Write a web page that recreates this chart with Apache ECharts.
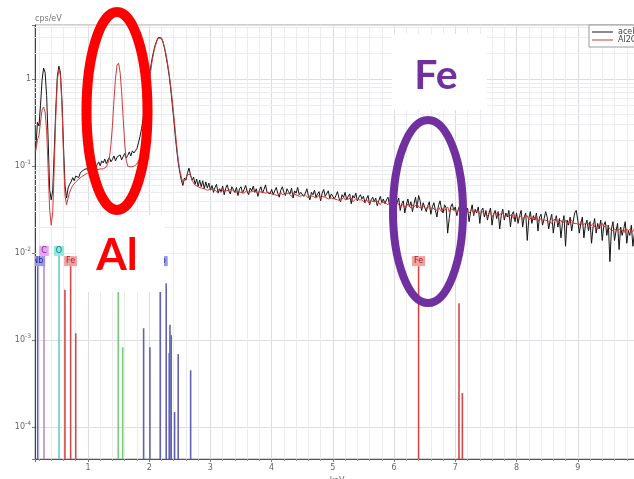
<!DOCTYPE html>
<html>
<head>
<meta charset="utf-8">
<script src="https://cdn.jsdelivr.net/npm/echarts@6/dist/echarts.min.js"></script>
<style>
  html, body { margin: 0; padding: 0; background: #fff; }
  #chart { width: 634px; height: 479px; }
</style>
</head>
<body>
<div id="chart"></div>
<script>
// Spectrum channels: 0.025 keV wide; two blocks starting at 0.15 keV and 3.0 keV
const channelWidth = 0.025;
const lowStart = 0.15;
const highStart = 3.0;

// "acel" spectrum, cps/eV, 0.150 - 2.975 keV (10 channels per row)
const acelLow = [
  0.17, 0.32, 0.29, 0.50, 0.97, 1.34, 1.20, 0.65, 0.20, 0.053,
  0.041, 0.053, 0.153, 0.465, 1.08, 1.41, 1.20, 0.574, 0.174, 0.060,
  0.043, 0.056, 0.062, 0.066, 0.074, 0.068, 0.077, 0.080, 0.074, 0.084,
  0.081, 0.090, 0.086, 0.094, 0.089, 0.099, 0.092, 0.097, 0.106, 0.096,
  0.104, 0.112, 0.101, 0.115, 0.109, 0.121, 0.107, 0.118, 0.126, 0.112,
  0.120, 0.131, 0.115, 0.127, 0.122, 0.135, 0.118, 0.129, 0.140, 0.124,
  0.133, 0.146, 0.131, 0.150, 0.142, 0.150, 0.160, 0.185, 0.22, 0.27,
  0.35, 0.46, 0.60, 0.80, 1.05, 1.38, 1.76, 2.13, 2.50, 2.80,
  3.02, 3.12, 2.98, 2.68, 2.28, 1.84, 1.45, 1.11, 0.79, 0.53,
  0.356, 0.227, 0.153, 0.108, 0.085, 0.069, 0.060, 0.073, 0.069, 0.083,
  0.095, 0.079, 0.069, 0.075, 0.062, 0.071, 0.059, 0.069, 0.058, 0.068,
  0.055, 0.066, 0.056, 0.064
];

// "acel" spectrum, cps/eV, 3.000 - 10.000 keV (20 channels per row)
const acelHigh = [
  0.053, 0.060, 0.050, 0.057, 0.062, 0.049, 0.055, 0.051, 0.059, 0.047, 0.056, 0.061, 0.052, 0.048, 0.058, 0.054, 0.050, 0.057, 0.046, 0.055,
  0.058, 0.049, 0.054, 0.060, 0.051, 0.047, 0.056, 0.052, 0.059, 0.050, 0.055, 0.045, 0.053, 0.058, 0.049, 0.054, 0.061, 0.050, 0.052, 0.048,
  0.054, 0.047, 0.052, 0.057, 0.049, 0.044, 0.053, 0.058, 0.050, 0.046, 0.055, 0.051, 0.048, 0.056, 0.043, 0.052, 0.049, 0.057, 0.047, 0.050,
  0.052, 0.045, 0.049, 0.055, 0.046, 0.041, 0.050, 0.047, 0.053, 0.044, 0.048, 0.051, 0.040, 0.049, 0.054, 0.045, 0.047, 0.052, 0.043, 0.048,
  0.049, 0.042, 0.046, 0.051, 0.043, 0.039, 0.047, 0.044, 0.050, 0.041, 0.045, 0.048, 0.037, 0.046, 0.043, 0.049, 0.040, 0.044, 0.047, 0.042,
  0.045, 0.038, 0.042, 0.046, 0.036, 0.041, 0.044, 0.039, 0.043, 0.035, 0.040, 0.045, 0.038, 0.042, 0.037, 0.041, 0.044, 0.036, 0.040, 0.038,
  0.041, 0.033, 0.038, 0.043, 0.031, 0.037, 0.040, 0.029, 0.036, 0.042, 0.034, 0.039, 0.030, 0.037, 0.044, 0.033, 0.046, 0.040, 0.031, 0.038,
  0.037, 0.030, 0.035, 0.039, 0.028, 0.034, 0.038, 0.031, 0.026, 0.035, 0.040, 0.032, 0.029, 0.036, 0.033, 0.017, 0.025, 0.034, 0.037, 0.031,
  0.034, 0.027, 0.032, 0.036, 0.025, 0.031, 0.035, 0.028, 0.033, 0.023, 0.030, 0.036, 0.027, 0.032, 0.029, 0.034, 0.022, 0.031, 0.033, 0.026,
  0.031, 0.024, 0.029, 0.033, 0.021, 0.028, 0.031, 0.025, 0.030, 0.019, 0.027, 0.032, 0.024, 0.029, 0.026, 0.031, 0.020, 0.028, 0.030, 0.023,
  0.029, 0.022, 0.027, 0.031, 0.020, 0.026, 0.029, 0.014, 0.025, 0.030, 0.022, 0.027, 0.024, 0.029, 0.018, 0.026, 0.028, 0.021, 0.025, 0.030,
  0.026, 0.019, 0.024, 0.028, 0.017, 0.023, 0.027, 0.020, 0.025, 0.015, 0.022, 0.027, 0.012, 0.024, 0.021, 0.026, 0.018, 0.023, 0.029, 0.031,
  0.024, 0.017, 0.022, 0.026, 0.015, 0.021, 0.024, 0.018, 0.023, 0.013, 0.020, 0.025, 0.017, 0.022, 0.019, 0.024, 0.014, 0.021, 0.023, 0.016,
  0.021, 0.008, 0.019, 0.023, 0.014, 0.018, 0.022, 0.011, 0.020, 0.016, 0.019, 0.023, 0.013, 0.018, 0.016, 0.021, 0.012, 0.017, 0.020, 0.015,
  0.017
];

// "Al2O3" spectrum, cps/eV, 0.150 - 2.975 keV
const al2o3Low = [
  0.153, 0.199, 0.227, 0.32, 0.441, 0.48, 0.42, 0.259, 0.090, 0.031,
  0.021, 0.030, 0.103, 0.386, 0.97, 1.30, 1.11, 0.50, 0.134, 0.046,
  0.036, 0.043, 0.050, 0.055, 0.060, 0.063, 0.066, 0.069, 0.071, 0.074,
  0.076, 0.078, 0.080, 0.082, 0.084, 0.083, 0.086, 0.088, 0.087, 0.090,
  0.091, 0.090, 0.093, 0.094, 0.093, 0.096, 0.098, 0.108, 0.123, 0.174,
  0.296, 0.574, 1.03, 1.45, 1.53, 1.20, 0.71, 0.356, 0.184, 0.117,
  0.100, 0.098, 0.098, 0.100, 0.100, 0.103, 0.106, 0.111, 0.123, 0.153,
  0.199, 0.296, 0.441, 0.64, 0.90, 1.24, 1.65, 2.04, 2.39, 2.73,
  2.96, 3.04, 2.96, 2.73, 2.33, 1.94, 1.53, 1.17, 0.853, 0.59,
  0.396, 0.259, 0.170, 0.117, 0.090, 0.075, 0.065, 0.067, 0.073, 0.081,
  0.085, 0.079, 0.069, 0.064, 0.0605, 0.059, 0.058, 0.059, 0.056, 0.058,
  0.055, 0.056, 0.053, 0.055
];

// "Al2O3" spectrum, cps/eV, 3.000 - 10.000 keV
const al2o3High = [
  0.054, 0.052, 0.055, 0.053, 0.051, 0.054, 0.052, 0.050, 0.053, 0.055, 0.052, 0.050, 0.053, 0.051, 0.054, 0.052, 0.050, 0.052, 0.051, 0.053,
  0.050, 0.052, 0.049, 0.051, 0.053, 0.050, 0.048, 0.051, 0.049, 0.052, 0.050, 0.048, 0.051, 0.049, 0.050, 0.052, 0.049, 0.047, 0.050, 0.049,
  0.048, 0.050, 0.047, 0.049, 0.046, 0.048, 0.050, 0.047, 0.045, 0.048, 0.046, 0.049, 0.047, 0.045, 0.048, 0.046, 0.047, 0.049, 0.045, 0.047,
  0.046, 0.044, 0.047, 0.045, 0.043, 0.046, 0.044, 0.045, 0.047, 0.043, 0.044, 0.046, 0.042, 0.045, 0.043, 0.044, 0.046, 0.042, 0.044, 0.043,
  0.044, 0.042, 0.043, 0.041, 0.043, 0.040, 0.042, 0.044, 0.041, 0.040, 0.042, 0.041, 0.043, 0.039, 0.041, 0.042, 0.040, 0.041, 0.039, 0.041,
  0.040, 0.038, 0.041, 0.039, 0.037, 0.040, 0.038, 0.039, 0.037, 0.040, 0.038, 0.036, 0.039, 0.037, 0.038, 0.040, 0.036, 0.038, 0.037, 0.036,
  0.037, 0.035, 0.038, 0.036, 0.034, 0.037, 0.035, 0.036, 0.034, 0.037, 0.035, 0.033, 0.036, 0.034, 0.035, 0.037, 0.034, 0.035, 0.033, 0.035,
  0.034, 0.032, 0.035, 0.033, 0.031, 0.034, 0.032, 0.033, 0.031, 0.034, 0.032, 0.030, 0.033, 0.031, 0.032, 0.034, 0.030, 0.032, 0.031, 0.032,
  0.031, 0.029, 0.032, 0.030, 0.029, 0.031, 0.030, 0.028, 0.031, 0.029, 0.030, 0.032, 0.028, 0.030, 0.029, 0.031, 0.028, 0.029, 0.030, 0.028,
  0.029, 0.027, 0.028, 0.030, 0.026, 0.028, 0.027, 0.029, 0.026, 0.028, 0.027, 0.029, 0.026, 0.027, 0.028, 0.026, 0.027, 0.028, 0.025, 0.027,
  0.027, 0.025, 0.026, 0.027, 0.024, 0.026, 0.025, 0.027, 0.024, 0.025, 0.026, 0.024, 0.025, 0.027, 0.023, 0.025, 0.026, 0.024, 0.025, 0.024,
  0.025, 0.023, 0.024, 0.022, 0.024, 0.023, 0.025, 0.022, 0.023, 0.024, 0.022, 0.023, 0.024, 0.021, 0.023, 0.022, 0.024, 0.022, 0.023, 0.022,
  0.022, 0.021, 0.023, 0.021, 0.020, 0.022, 0.021, 0.022, 0.020, 0.021, 0.022, 0.020, 0.021, 0.019, 0.021, 0.020, 0.022, 0.020, 0.019, 0.021,
  0.020, 0.019, 0.020, 0.018, 0.019, 0.020, 0.018, 0.019, 0.020, 0.018, 0.019, 0.017, 0.019, 0.018, 0.019, 0.017, 0.018, 0.019, 0.017, 0.018,
  0.018
];

// Characteristic X-ray lines: element, energy (keV), relative height (cps/eV), tagged with element box
const lineElement = ['Nb', 'C', 'O', 'Fe', 'Fe', 'Fe', 'Al', 'Al', 'Nb', 'Nb', 'Nb', 'Nb', 'Nb', 'Nb', 'Nb', 'Nb', 'Nb', 'Nb', 'Fe', 'Fe', 'Fe'];
const lineEnergy = [0.179, 0.282, 0.527, 0.624, 0.717, 0.800, 1.495, 1.567, 1.909, 2.012, 2.180, 2.278, 2.327, 2.339, 2.360, 2.415, 2.474, 2.677, 6.400, 7.060, 7.115];
const lineHeight = [0.0071, 0.0093, 0.0093, 0.0038, 0.0071, 0.0012, 0.0085, 0.00083, 0.00137, 0.00083, 0.0071, 0.0045, 0.00071, 0.0015, 0.00114, 0.000149, 0.00069, 0.00045, 0.0071, 0.00266, 0.000246];
const lineTagged = [1, 1, 1, 0, 1, 0, 1, 0, 0, 0, 1, 0, 0, 0, 0, 0, 0, 0, 1, 0, 0];

const seriesNames = ['acel', 'Al2O3'];

// Axis ranges
const xMin = 0.135, xMax = 10.0;
const yMin = 4.3e-5, yMax = 4.2;

const elementStyle = {
  Nb: { line: '#6262b4', tag: '#9797ec', text: '#2c2c8c' },
  C:  { line: '#b98bd2', tag: '#e6a4f2', text: '#7a2a90' },
  O:  { line: '#5fd2c6', tag: '#8fe8e3', text: '#197a76' },
  Fe: { line: '#d24848', tag: '#f2a2a2', text: '#a02222' },
  Al: { line: '#7ac87a', tag: '#a2e0a2', text: '#226f22' }
};

function toPairs(start, values) {
  return values.map((v, i) => [+(start + i * channelWidth).toFixed(3), v]);
}
const acelData = toPairs(lowStart, acelLow).concat(toPairs(highStart, acelHigh));
const al2o3Data = toPairs(lowStart, al2o3Low).concat(toPairs(highStart, al2o3High));

// Minor grid: 2..9 per decade on the log axis, every 0.2 keV on the energy axis
const minorY = [];
for (let d = -5; d <= 0; d++) {
  for (let m = 2; m <= 9; m++) {
    const v = m * Math.pow(10, d);
    if (v > yMin && v < yMax) minorY.push(v);
  }
}
const minorX = [];
for (let k = 1; k < 50; k++) {
  const v = +(k * 0.2).toFixed(1);
  if (k % 5 !== 0 && v > xMin && v < xMax) minorX.push(v);
}

const font = 'DejaVu Sans';
const chart = echarts.init(document.getElementById('chart'));

chart.setOption({
  animation: false,
  backgroundColor: '#fff',
  grid: {
    left: 35, right: -5, top: 25, bottom: 20,
    outerBoundsMode: 'none', containLabel: false,
    show: true, borderColor: '#a0a0a0', borderWidth: 1
  },
  legend: {
    data: seriesNames,
    orient: 'vertical',
    left: 589, top: 25,
    padding: [3, 4, 3, 3],
    itemGap: 0,
    itemWidth: 21, itemHeight: 1,
    icon: 'rect',
    borderColor: '#9a9a9a', borderWidth: 1, borderRadius: 0,
    backgroundColor: '#fff',
    textStyle: { fontFamily: font, fontSize: 8, color: '#444', lineHeight: 8 }
  },
  xAxis: {
    type: 'value',
    min: xMin, max: xMax,
    splitNumber: 10,
    name: 'keV',
    nameLocation: 'middle',
    nameGap: 14,
    nameTextStyle: { fontFamily: font, fontSize: 8, color: '#666' },
    axisLine: { lineStyle: { color: '#555', width: 1 } },
    axisTick: { show: true, length: 3, lineStyle: { color: '#777' } },
    minorTick: { show: true, splitNumber: 5, length: 2, lineStyle: { color: '#999' } },
    axisLabel: {
      fontFamily: font, fontSize: 8, color: '#666', margin: 5,
      formatter: v => (Math.abs(v - Math.round(v)) < 1e-9 ? String(Math.round(v)) : '')
    },
    splitLine: { show: true, lineStyle: { color: '#dcdce4', width: 1 } }
  },
  yAxis: {
    type: 'log',
    logBase: 10,
    min: yMin, max: yMax,
    name: 'cps/eV',
    nameLocation: 'end',
    nameGap: 2,
    nameTextStyle: { fontFamily: font, fontSize: 8, color: '#777', align: 'left', padding: [0, 0, 0, 0] },
    axisLine: { show: true, lineStyle: { color: '#444', width: 1 } },
    axisTick: { show: true, length: 3, lineStyle: { color: '#777' } },
    axisLabel: {
      fontFamily: font, fontSize: 8, color: '#666', margin: 4,
      formatter: v => {
        const p = Math.log10(v);
        const r = Math.round(p);
        if (Math.abs(p - r) > 1e-6) return '';
        return r === 0 ? '1' : '10{sup|' + r + '}';
      },
      rich: { sup: { fontFamily: font, fontSize: 6, color: '#666', padding: [0, 0, 7, 0] } }
    },
    splitLine: { show: true, lineStyle: { color: '#dcdce4', width: 1 } }
  },
  series: [
    {
      // minor grid lines
      type: 'line',
      data: [],
      silent: true,
      z: 1,
      markLine: {
        silent: true,
        z: 1,
        symbol: 'none',
        animation: false,
        label: { show: false },
        lineStyle: { color: '#ebebf0', width: 1, type: 'solid' },
        data: minorY.map(v => ({ yAxis: v })).concat(minorX.map(v => ({ xAxis: v })))
      }
    },
    {
      // element lines with element tags
      type: 'custom',
      silent: true,
      clip: true,
      z: 3,
      encode: { x: 0, y: 1 },
      data: lineEnergy.map((e, i) => [e, lineHeight[i], i]),
      renderItem(params, api) {
        const i = api.value(2);
        const el = lineElement[i];
        const st = elementStyle[el];
        const top = api.coord([api.value(0), api.value(1)]);
        const cs = params.coordSys;
        const bottom = cs.y + cs.height;
        const children = [{
          type: 'line',
          shape: { x1: top[0], y1: top[1], x2: top[0], y2: bottom },
          style: { stroke: st.line, lineWidth: 1.6 }
        }];
        if (lineTagged[i]) {
          children.push({
            type: 'text',
            x: top[0], y: top[1],
            style: {
              text: el, fill: st.text, backgroundColor: st.tag,
              padding: [1, 2, 1, 2],
              font: '8px "DejaVu Sans"',
              align: 'center', verticalAlign: 'bottom'
            }
          });
        }
        return { type: 'group', children };
      }
    },
    {
      name: seriesNames[0],
      type: 'line',
      data: acelData,
      showSymbol: false,
      symbol: 'none',
      z: 4,
      lineStyle: { color: '#151515', width: 1 },
      itemStyle: { color: '#151515' }
    },
    {
      name: seriesNames[1],
      type: 'line',
      data: al2o3Data,
      showSymbol: false,
      symbol: 'none',
      z: 5,
      lineStyle: { color: '#d03a3a', width: 1 },
      itemStyle: { color: '#d03a3a' }
    }
  ],
  graphic: [
    { type: 'rect', z: 100, shape: { x: 77, y: 215, width: 87, height: 77 }, style: { fill: '#fff' } },
    { type: 'rect', z: 100, shape: { x: 392, y: 34, width: 95, height: 76 }, style: { fill: '#fff' } },
    { type: 'text', z: 101, x: 117, y: 256, style: { text: 'Al', fill: '#ff0000', font: 'bold 44px Lato', align: 'center', verticalAlign: 'middle' } },
    { type: 'text', z: 101, x: 436, y: 76, style: { text: 'Fe', fill: '#7030a0', font: 'bold 41px Lato', align: 'center', verticalAlign: 'middle' } },
    { type: 'ellipse', z: 102, shape: { cx: 117, cy: 111, rx: 30.5, ry: 99 }, style: { fill: 'none', stroke: '#ff0000', lineWidth: 10 } },
    { type: 'ellipse', z: 102, shape: { cx: 428, cy: 211.5, rx: 35, ry: 91.5 }, style: { fill: 'none', stroke: '#7030a0', lineWidth: 8 } }
  ]
});
</script>
</body>
</html>
